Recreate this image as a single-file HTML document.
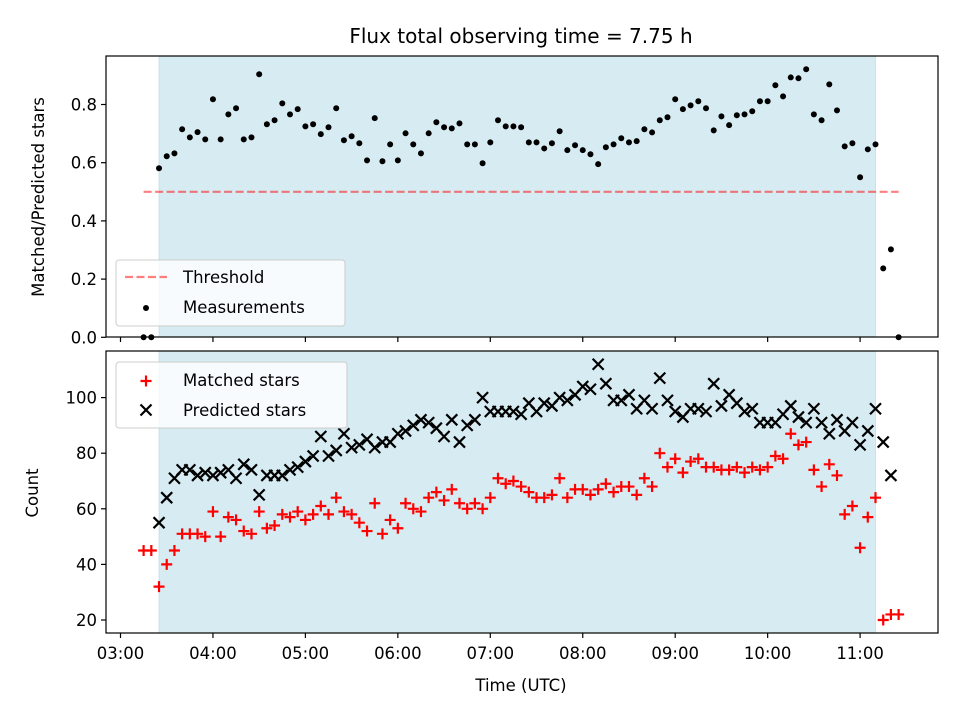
<!DOCTYPE html>
<html><head><meta charset="utf-8"><style>
html,body{margin:0;padding:0;background:#fff;}
svg{display:block;font-family:"DejaVu Sans","Liberation Sans",sans-serif;}
</style></head><body>
<svg id="chart" width="960" height="720" viewBox="0 0 960 720" xmlns="http://www.w3.org/2000/svg"></svg>
<script>
// ---- data ----
const startHour = 3.25;          // first sample 03:15 UTC
const stepMinutes = 5;
const ratioValues = [0,0,0.581,0.622,0.632,0.715,0.687,0.705,0.680,0.818,0.680,0.766,0.787,0.680,0.687,0.904,0.732,0.746,0.804,0.766,0.784,0.725,0.732,0.698,0.722,0.787,0.677,0.691,0.667,0.608,0.753,0.605,0.663,0.608,0.701,0.663,0.632,0.701,0.739,0.722,0.718,0.735,0.663,0.663,0.598,0.670,0.746,0.725,0.725,0.722,0.670,0.670,0.649,0.667,0.708,0.643,0.660,0.643,0.629,0.595,0.653,0.663,0.684,0.670,0.674,0.715,0.704,0.746,0.756,0.818,0.784,0.797,0.811,0.787,0.711,0.759,0.729,0.763,0.766,0.777,0.811,0.811,0.866,0.828,0.893,0.890,0.921,0.766,0.746,0.869,0.780,0.656,0.667,0.550,0.646,0.663,0.237,0.302,0.0];
const matchedValues = [45,45,32,40,45,51,51,51,50,59,50,57,56,52,51,59,53,54,58,57,59,56,58,61,58,64,59,58,55,52,62,51,56,53,62,60,59,64,66,63,67,62,60,62,60,64,71,69,70,68,66,64,64,65,71,64,67,67,65,67,69,66,68,68,65,71,68,80,75,78,73,77,78,75,75,74,74,75,73,75,74,75,79,78,87,83,84,74,68,76,72,58,61,46,57,64,20,22,22];
const predictedValues = [null,null,55,64,71,74,74,72,73,72,73,74,71,76,74,65,72,72,72,74,75,77,79,86,79,81,87,82,83,85,82,84,84,87,88,90,92,91,89,86,92,84,90,92,100,95,95,95,95,94,98,95,98,97,100,99,101,104,103,112,105,99,99,101,96,99,96,107,99,95,93,96,96,95,105,97,101,98,95,96,91,91,91,94,97,93,91,96,91,87,92,88,91,83,88,96,84,72,null];
const threshold = 0.5;
const windowStart = 3 + 25/60, windowEnd = 11 + 10/60;
const xTickLabels = ["03:00","04:00","05:00","06:00","07:00","08:00","09:00","10:00","11:00"];
const topTicks = [0.0,0.2,0.4,0.6,0.8];
const bottomTicks = [20,40,60,80,100];

// ---- scales ----
const L=106, R=938, T1=56, B1=337, T2=351, B2=633;
const x = t => 120.5 + 92.45*(t-3);
const yTop = v => 337.3 - v*291;
const yBot = v => 620 - (v-20)*2.78;
const timeOf = i => startHour + i*stepMinutes/60;

const svg = document.getElementById('chart');
const NS='http://www.w3.org/2000/svg';
function mk(tag, attrs, parent){const e=document.createElementNS(NS,tag);for(const k in attrs)e.setAttribute(k,attrs[k]);(parent||svg).appendChild(e);return e;}

function panel(top,bottom,name){
  const g=mk('g',{});
  
  
  const sh=mk('rect',{x:x(windowStart),y:top,width:x(windowEnd)-x(windowStart),height:bottom-top,fill:'#add8e6','fill-opacity':0.5,stroke:'#add8e6','stroke-opacity':0.6},g);
  
  
  return g;
}
const gTop=panel(T1,B1,'ratio-panel');
const gBot=panel(T2,B2,'count-panel');

const th=mk('line',{x1:x(timeOf(0)),x2:x(timeOf(ratioValues.length-1)),y1:yTop(threshold),y2:yTop(threshold),stroke:'#ff0000','stroke-opacity':0.5,'stroke-width':2.2,'stroke-dasharray':'8,3.5'},gTop);



ratioValues.forEach((v,i)=>{
  const c=mk('circle',{cx:x(timeOf(i)),cy:yTop(v),r:3,fill:'#000'},gTop);
  
  
});
matchedValues.forEach((v,i)=>{
  const cx=x(timeOf(i)), cy=yBot(v), s=5.5;
  const p=mk('path',{d:`M${cx-s},${cy}H${cx+s}M${cx},${cy-s}V${cy+s}`,stroke:'#ff0000','stroke-width':2.2,fill:'none'},gBot);
  
  
});
predictedValues.forEach((v,i)=>{
  if(v===null)return;
  const cx=x(timeOf(i)), cy=yBot(v), s=5.5;
  const p=mk('path',{d:`M${cx-s},${cy-s}L${cx+s},${cy+s}M${cx-s},${cy+s}L${cx+s},${cy-s}`,stroke:'#000','stroke-width':2.2,fill:'none'},gBot);
  
  
});

[[T1,B1,'ratio-frame'],[T2,B2,'count-frame']].forEach(([t,b,n])=>{
  const r=mk('rect',{x:L,y:t,width:R-L,height:b-t,fill:'none',stroke:'#000','stroke-width':1.2});
  
  
});
xTickLabels.forEach((lab,k)=>{
  const tx=x(3+k);
  mk('line',{x1:tx,x2:tx,y1:B1,y2:B1+5,stroke:'#000','stroke-width':1.2});
  mk('line',{x1:tx,x2:tx,y1:B2,y2:B2+5,stroke:'#000','stroke-width':1.2});
  const t=mk('text',{x:tx,y:B2+26,'text-anchor':'middle','font-size':16.5,fill:'#000'});
  t.textContent=lab;
  
  
});
topTicks.forEach(v=>{
  const ty=yTop(v);
  mk('line',{x1:L-5,x2:L,y1:ty,y2:ty,stroke:'#000','stroke-width':1.2});
  const t=mk('text',{x:L-9,y:ty+6,'text-anchor':'end','font-size':16.5,fill:'#000'});
  t.textContent=v.toFixed(1);
  
  
});
bottomTicks.forEach(v=>{
  const ty=yBot(v);
  mk('line',{x1:L-5,x2:L,y1:ty,y2:ty,stroke:'#000','stroke-width':1.2});
  const t=mk('text',{x:L-9,y:ty+6,'text-anchor':'end','font-size':16.5,fill:'#000'});
  t.textContent=String(v);
  
  
});
</script>
<svg width="960" height="720" style="position:absolute;left:0;top:0" font-family="DejaVu Sans, Liberation Sans, sans-serif">
  <text x="521" y="43" text-anchor="middle" font-size="20">Flux total observing time = 7.75 h</text>
  <text x="521" y="691" text-anchor="middle" font-size="16.5">Time (UTC)</text>
  <text transform="translate(44,197) rotate(-90)" text-anchor="middle" font-size="16.5">Matched/Predicted stars</text>
  <text transform="translate(38,493) rotate(-90)" text-anchor="middle" font-size="16.5">Count</text>
  <g>
    <rect x="116" y="260" width="229" height="66" rx="3" fill="#fff" fill-opacity="0.8" stroke="#cccccc"/>
    <line x1="125" y1="277" x2="167" y2="277" stroke="#ff0000" stroke-opacity="0.5" stroke-width="2.2" stroke-dasharray="8,3.5"/>
    <text x="183" y="283" font-size="16.5">Threshold</text>
    <circle cx="146" cy="308" r="3" fill="#000"/>
    <text x="183" y="313" font-size="16.5">Measurements</text>
  </g>
  <g>
    <rect x="116" y="362" width="231" height="66" rx="3" fill="#fff" fill-opacity="0.8" stroke="#cccccc"/>
    <path d="M140.5,381H151.5M146,375.5V386.5" stroke="#ff0000" stroke-width="2.2"/>
    <text x="183" y="386" font-size="16.5">Matched stars</text>
    <path d="M140.5,404.5L151.5,415.5M140.5,415.5L151.5,404.5" stroke="#000" stroke-width="2.2"/>
    <text x="183" y="416" font-size="16.5">Predicted stars</text>
  </g>
</svg>
</body></html>
